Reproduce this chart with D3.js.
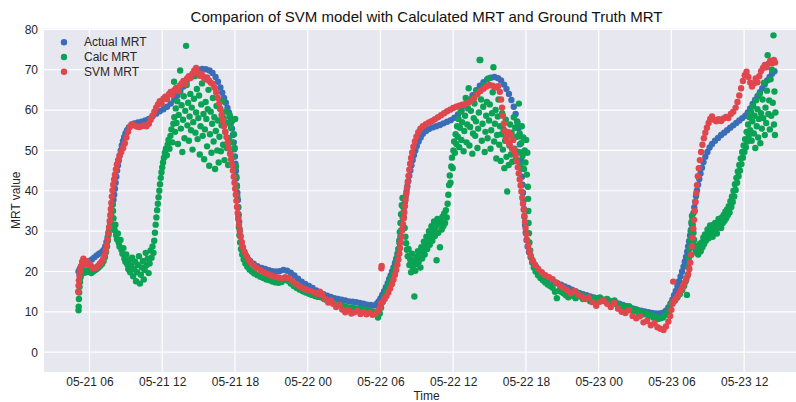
<!DOCTYPE html>
<html>
<head>
<meta charset="utf-8">
<script src="https://cdn.jsdelivr.net/npm/d3@7"></script>
<style>
  body { margin: 0; background: #fff; }
  text { font-family: "Liberation Sans", Arial, sans-serif; fill: #262626; }
</style>
</head>
<body>
<div class="chart"></div>
<script>
// hours counted from 05-21 00:00, value in MRT units
const actualMRT = [[5.1,20.0],[5.2,20.6],[5.3,21.2],[5.45,21.6],[5.6,22.0],[5.8,22.3],[6.0,22.6],[6.2,23.0],[6.4,23.5],[6.6,24.0],[6.8,24.4],[7.0,24.8],[7.15,25.3],[7.3,26.2],[7.4,27.3],[7.5,28.5],[7.58,29.8],[7.65,31],[7.72,32.3],[7.8,33.8],[7.86,35.2],[7.92,36.6],[7.98,37.8],[8.04,39],[8.1,40.5],[8.16,42],[8.22,43.5],[8.28,45],[8.35,46.3],[8.42,47.5],[8.5,48.8],[8.58,50],[8.67,51.2],[8.76,52.3],[8.86,53.3],[8.97,54.2],[9.1,55],[9.25,55.7],[9.45,56.3],[9.7,56.7],[10.0,56.9],[10.3,57.1],[10.6,57.4],[10.9,57.8],[11.2,58.4],[11.5,59.1],[11.8,59.7],[12.1,60.2],[12.4,60.8],[12.7,61.6],[13.0,62.6],[13.25,63.6],[13.5,64.7],[13.75,65.8],[14.0,66.9],[14.25,67.9],[14.5,68.8],[14.75,69.5],[15.0,70.0],[15.3,70.2],[15.6,70.1],[15.9,69.8],[16.15,69.2],[16.4,68.2],[16.6,67.0],[16.8,65.6],[16.95,64.3],[17.1,63.0],[17.25,61.8],[17.38,60.5],[17.5,59.4],[17.6,58.2],[17.68,56.9],[17.76,55.4],[17.83,53.8],[17.9,52],[17.95,50.3],[18.0,48.5],[18.04,46.7],[18.08,44.9],[18.12,43.1],[18.16,41.3],[18.2,39.5],[18.24,37.7],[18.28,35.9],[18.31,34.1],[18.35,32.3],[18.39,30.5],[18.45,28.8],[18.53,27.3],[18.64,25.9],[18.8,24.6],[19.0,23.5],[19.25,22.6],[19.55,21.9],[19.85,21.3],[20.2,20.9],[20.5,20.6],[20.8,20.3],[21.1,20.1],[21.4,20.0],[21.7,20.1],[22.0,20.4],[22.3,20.2],[22.6,19.7],[22.9,19.0],[23.2,18.2],[23.5,17.5],[23.8,16.9],[24.1,16.4],[24.4,15.9],[24.7,15.3],[25.0,14.8],[25.3,14.4],[25.6,14.0],[25.9,13.7],[26.2,13.4],[26.5,13.2],[26.8,13.0],[27.1,12.8],[27.4,12.6],[27.7,12.5],[28.0,12.4],[28.3,12.2],[28.6,12.0],[28.9,11.8],[29.2,11.7],[29.5,11.6],[29.7,12.0],[29.85,12.6],[30.0,13.3],[30.15,14.2],[30.3,15.1],[30.45,16.1],[30.6,17.1],[30.72,18.1],[30.84,19.0],[30.96,20.0],[31.08,21.0],[31.2,22.1],[31.3,23.2],[31.4,24.4],[31.5,25.6],[31.58,27.0],[31.65,28.6],[31.72,30.2],[31.78,31.8],[31.84,33.3],[31.9,34.6],[31.96,35.9],[32.02,37.2],[32.08,38.5],[32.15,39.8],[32.22,41.1],[32.3,42.4],[32.38,43.7],[32.47,45.0],[32.56,46.3],[32.66,47.6],[32.76,48.8],[32.88,50.0],[33.0,51.1],[33.15,52.2],[33.32,53.2],[33.5,54.1],[33.75,54.8],[34.0,55.3],[34.3,55.7],[34.6,56.0],[34.9,56.3],[35.2,56.7],[35.5,57.1],[35.8,57.5],[36.1,58.1],[36.4,58.9],[36.7,59.9],[37.0,61.1],[37.3,62.4],[37.6,63.7],[37.9,64.9],[38.2,66.0],[38.5,66.9],[38.8,67.6],[39.1,68.0],[39.4,68.2],[39.7,67.9],[39.95,67.3],[40.2,66.3],[40.4,65.2],[40.6,64.0],[40.8,62.5],[41.0,60.8],[41.15,59.0],[41.28,57.2],[41.38,55.5],[41.45,53.5],[41.5,51.5],[41.55,49.5],[41.6,47.5],[41.64,45.5],[41.68,43.5],[41.72,41.5],[41.76,39.5],[41.8,37.5],[41.84,35.5],[41.88,33.5],[41.93,31.5],[41.98,29.6],[42.05,27.8],[42.14,26.2],[42.25,24.8],[42.4,23.5],[42.6,22.3],[42.85,21.1],[43.1,20.1],[43.4,19.3],[43.7,18.6],[44.0,18.0],[44.3,17.5],[44.6,17.1],[44.9,16.7],[45.2,16.3],[45.5,15.9],[45.8,15.5],[46.1,15.1],[46.4,14.7],[46.7,14.4],[47.0,14.1],[47.3,13.8],[47.6,13.6],[47.9,13.4],[48.2,13.2],[48.5,13.0],[48.8,12.8],[49.1,12.6],[49.4,12.3],[49.7,12.0],[50.0,11.7],[50.3,11.4],[50.6,11.1],[50.9,10.8],[51.2,10.5],[51.5,10.3],[51.8,10.1],[52.1,9.9],[52.4,9.7],[52.7,9.6],[53.0,9.6],[53.3,9.8],[53.55,10.3],[53.75,11.1],[53.92,12.0],[54.08,13.0],[54.22,14.1],[54.36,15.2],[54.5,16.4],[54.63,17.6],[54.76,18.8],[54.88,20.0],[55.0,21.2],[55.1,22.4],[55.2,23.6],[55.3,24.9],[55.38,26.2],[55.46,27.5],[55.54,28.9],[55.61,30.3],[55.68,31.7],[55.75,33.1],[55.82,34.5],[55.89,35.9],[55.96,37.3],[56.03,38.7],[56.11,40.1],[56.2,41.5],[56.3,42.9],[56.4,44.3],[56.52,45.7],[56.65,47.1],[56.8,48.4],[56.97,49.6],[57.15,50.7],[57.35,51.6],[57.6,52.4],[57.85,53.1],[58.1,53.8],[58.35,54.4],[58.6,55.0],[58.85,55.6],[59.1,56.2],[59.35,56.8],[59.6,57.4],[59.85,58.0],[60.1,58.6],[60.3,59.4],[60.5,60.4],[60.7,61.5],[60.9,62.5],[61.1,63.4],[61.3,64.4],[61.5,65.4],[61.7,66.4],[61.9,67.3],[62.1,68.2],[62.3,69.0],[62.5,69.6]];

const calcMRT = [[5.1,10.4],[5.11,11.3],[5.13,13.2],[5.15,14.8],[5.18,16.2],[5.22,17.4],[5.27,18.6],[5.33,19.4],[5.4,19.9],[5.5,19.6],[5.6,20.2],[5.72,19.8],[5.85,20.3],[6.0,19.9],[6.15,19.6],[6.3,20.0],[6.45,20.3],[6.6,20.6],[6.75,21.0],[6.9,21.4],[7.05,21.9],[7.17,22.6],[7.28,23.6],[7.37,24.8],[7.45,26.2],[7.52,27.6],[7.58,29.1],[7.64,30.6],[7.7,32.1],[7.76,33.6],[7.82,35.2],[7.88,36.6],
[7.94,35.0],[7.98,33.2],[8.03,31.4],[8.08,30.2],[8.14,31.6],[8.2,29.0],[8.27,28.0],[8.34,29.4],[8.41,27.2],[8.48,26.2],[8.56,27.8],[8.64,25.4],[8.72,24.4],[8.8,25.8],[8.88,23.2],[8.96,22.4],[9.04,24.2],[9.12,21.8],[9.2,20.6],[9.28,22.8],[9.36,19.8],[9.44,21.4],[9.52,23.4],[9.6,18.8],[9.68,20.6],[9.76,22.4],[9.84,17.6],[9.92,19.8],[10.0,21.6],[10.08,23.8],[10.16,17.0],[10.24,19.2],[10.32,21.0],[10.4,22.6],[10.48,18.0],[10.56,20.4],[10.64,24.6],[10.72,21.6],[10.8,23.2],[10.88,19.6],[10.96,22.0],[11.04,25.2],[11.12,23.4],[11.2,26.2],[11.28,24.6],[11.34,27.6],[11.4,29.6],[11.46,31.6],[11.52,33.4],[11.58,35.2],[11.64,36.8],[11.7,38.4],[11.76,40.0],[11.82,41.6],[11.88,43.2],[11.94,44.6],[12.0,45.8],[12.07,47.0],[12.14,48.2],[12.22,49.4],[12.3,50.4],[12.38,48.8],[12.45,51.4],[12.52,52.6],[12.6,50.4],[12.68,53.6],[12.76,55.2],[12.84,52.0],[12.92,56.6],[12.98,67.0],[13.0,58.2],
[13.06,54.6],[13.12,60.4],[13.18,56.8],[13.24,62.2],[13.3,51.6],[13.36,58.8],[13.42,64.6],[13.48,69.8],[13.54,55.4],[13.6,61.2],[13.66,49.6],[13.72,57.6],[13.78,63.4],[13.84,53.0],[13.9,59.8],[13.97,75.9],[14.02,66.2],[14.08,56.2],[14.14,61.8],[14.2,52.4],[14.26,58.4],[14.32,64.0],[14.38,55.0],[14.44,60.6],[14.5,50.2],[14.56,57.0],[14.62,62.8],[14.68,68.4],[14.74,54.4],[14.8,59.4],[14.86,65.2],[14.92,52.8],[14.98,58.0],[15.04,63.6],[15.1,49.0],[15.16,56.0],[15.22,61.4],[15.28,66.6],[15.34,53.6],[15.4,59.0],[15.46,47.8],[15.52,55.2],[15.58,62.0],[15.64,57.8],[15.7,51.0],[15.76,60.2],[15.82,65.0],[15.88,46.2],[15.94,54.0],[16.0,59.6],[16.06,49.4],[16.12,56.6],[16.18,63.0],[16.24,52.2],[16.3,58.2],[16.36,45.4],[16.42,54.8],[16.48,61.0],[16.54,50.0],[16.6,57.4],[16.66,47.0],[16.72,53.4],[16.78,60.4],[16.84,49.8],[16.9,56.2],[16.96,62.2],[17.02,51.4],[17.08,58.0],[17.14,47.6],[17.2,54.6],[17.26,59.6],[17.32,50.6],[17.38,56.8],[17.44,46.4],[17.5,53.0],[17.56,58.8],[17.62,49.2],[17.68,55.6],[17.74,52.0],[17.8,57.4],[17.86,48.4],[17.92,54.0],[17.98,50.6],[18.02,57.8],
[18.08,46.0],[18.12,43.5],[18.16,41.0],[18.2,38.5],[18.24,36.0],[18.28,33.5],[18.32,31.0],[18.37,29.0],[18.43,27.2],[18.5,25.6],[18.6,24.2],[18.72,23.0],[18.86,22.0],[19.02,21.2],[19.2,20.5],[19.4,20.0],[19.6,19.5],[19.85,19.1],[20.1,18.7],[20.35,18.4],[20.6,18.0],[20.85,17.8],[21.1,17.5],[21.35,17.3],[21.6,17.2],[21.85,17.4],[22.1,18.0],[22.35,17.7],[22.6,17.0],[22.85,16.4],[23.1,15.9],[23.35,15.5],[23.6,15.1],[23.85,14.8],[24.1,14.5],[24.35,14.2],[24.6,13.9],[24.85,13.7],[25.1,13.6],[25.35,13.2],[25.6,12.8],[25.85,12.5],[26.1,12.2],[26.35,11.9],[26.6,11.7],[26.85,11.5],[27.1,11.3],[27.35,11.1],[27.6,11.0],[27.85,10.9],[28.1,10.8],[28.35,10.7],[28.6,10.6],[28.85,10.5],[29.1,10.3],[29.35,10.1],[29.6,9.6],[29.8,8.6],[29.95,9.6],[30.05,11.0],
[30.15,12.4],[30.3,13.8],[30.45,15.0],[30.6,16.2],[30.75,17.3],[30.9,18.4],[31.05,19.5],[31.18,20.8],[31.3,22.2],[31.4,23.8],[31.48,25.6],[31.55,27.6],[31.6,29.8],[31.65,32.0],[31.7,34.2],[31.76,36.4],[31.82,38.2],[31.88,36.0],[31.94,33.4],[32.0,30.8],[32.06,28.6],[32.12,27.0],[32.18,25.4],[32.25,23.8],[32.32,25.6],[32.39,21.6],[32.46,23.0],[32.53,19.8],[32.6,24.4],[32.67,21.2],[32.74,22.6],[32.8,13.8],[32.88,20.2],[32.95,23.6],[33.02,21.8],[33.09,25.0],[33.16,22.4],[33.23,24.2],[33.3,21.0],[33.37,26.0],[33.44,23.2],[33.51,25.4],[33.58,27.4],[33.65,24.2],[33.72,26.8],[33.79,28.6],[33.86,25.6],[33.93,27.8],[34.0,30.0],[34.07,26.6],[34.14,29.0],[34.21,31.2],[34.28,27.6],[34.35,30.2],[34.42,32.4],[34.49,28.8],[34.56,31.0],[34.63,22.8],[34.7,33.0],[34.77,29.6],[34.84,31.8],[34.91,26.0],[34.98,32.6],[35.05,30.4],[35.12,33.6],[35.19,31.2],[35.26,34.4],[35.33,32.0],[35.4,35.2],[35.47,33.4],[35.54,36.8],[35.6,39.0],[35.66,41.4],[35.72,43.8],[35.78,42.0],[35.84,46.0],[35.9,48.2],[35.96,45.6],[36.02,50.0],[36.08,52.2],[36.14,49.4],[36.2,54.0],[36.26,51.6],[36.32,56.0],
[36.38,53.4],[36.44,57.8],[36.5,50.8],[36.56,55.6],[36.62,59.6],[36.68,52.6],[36.74,57.0],[36.8,61.2],[36.86,49.8],[36.92,54.8],[36.98,58.6],[37.04,63.0],[37.1,52.0],[37.16,56.4],[37.22,60.4],[37.28,65.4],[37.34,51.2],[37.4,55.8],[37.46,59.8],[37.52,62.8],[37.58,49.2],[37.64,54.2],[37.7,58.0],[37.76,61.6],[37.82,53.6],[37.88,57.2],[37.94,64.6],[38.0,50.6],[38.06,55.4],[38.12,59.4],[38.18,72.4],[38.24,72.4],[38.3,62.6],[38.36,52.4],[38.42,56.6],[38.48,60.8],[38.54,66.2],[38.6,49.6],[38.66,54.6],[38.72,58.6],[38.78,62.0],[38.84,53.0],[38.9,67.8],[38.96,57.4],[39.02,61.4],[39.08,50.4],[39.14,55.0],[39.2,59.2],[39.26,64.4],[39.32,70.6],[39.38,52.2],[39.44,56.6],[39.5,60.0],[39.56,48.0],[39.62,53.8],[39.68,58.4],[39.74,62.6],[39.8,51.4],[39.86,56.0],[39.92,47.4],[39.98,54.0],[40.04,59.2],[40.1,50.2],[40.16,55.2],[40.22,45.6],[40.28,52.4],[40.34,57.6],[40.4,48.4],[40.46,39.8],[40.52,53.6],[40.58,46.4],[40.64,51.2],[40.7,56.4],[40.76,49.0],[40.82,54.4],[40.88,47.2],[40.94,52.6],[41.0,58.2],[41.06,50.4],[41.12,55.6],[41.18,47.8],[41.24,53.4],[41.3,56.8],[41.36,49.6],[41.42,61.6],[41.48,54.2],[41.54,46.2],[41.6,51.8],[41.66,56.0],[41.72,48.6],[41.78,53.2],[41.84,45.4],[41.9,50.0],[41.96,47.0],[42.02,52.6],[42.08,44.0],[42.12,49.4],[42.16,41.0],[42.18,38.0],[42.2,35.0],[42.22,32.0],[42.25,29.5],[42.29,27.2],[42.35,25.2],[42.42,23.6],[42.52,22.2],[42.65,21.0],[42.8,20.0],[43.0,19.1],[43.2,18.4],[43.4,17.8],[43.6,17.3],[43.8,16.8],[44.0,16.4],[44.2,16.0],[44.4,15.0],[44.55,13.4],[44.7,15.2],[44.9,15.0],[45.1,14.6],[45.3,14.1],[45.5,13.6],[45.7,14.2],[45.9,13.9],[46.1,13.4],[46.3,14.6],[46.5,13.8],[46.7,13.2],[46.9,13.9],[47.1,13.4],[47.3,12.6],[47.5,13.4],[47.7,12.8],[47.9,13.2],[48.1,13.6],[48.3,13.0],[48.5,12.6],[48.7,13.2],[48.9,12.4],[49.1,12.0],[49.3,12.8],[49.5,11.8],[49.7,11.4],[49.9,11.6],[50.1,11.2],[50.3,10.8],[50.5,11.4],[50.7,10.6],[50.9,10.2],[51.1,10.6],[51.3,9.8],[51.5,10.0],[51.7,9.4],[51.9,9.6],[52.1,9.0],[52.3,9.2],[52.5,8.6],[52.7,8.8],[52.9,8.2],[53.1,8.4],[53.3,8.6],[53.5,9.2],[53.7,10.0],[53.85,11.0],[54.0,12.2],[54.15,12.6],
[54.3,12.8],[54.5,13.6],[54.7,14.4],[54.9,15.4],[55.05,16.4],[55.18,17.6],[55.28,14.2],[55.34,19.0],[55.4,21.2],[55.45,23.4],[55.5,25.6],[55.55,27.8],[55.6,30.0],[55.65,32.2],[55.7,33.8],[55.76,31.6],[55.82,29.6],[55.88,27.8],[55.94,26.4],[56.0,25.2],[56.07,24.6],[56.14,25.8],[56.21,24.2],[56.28,25.4],[56.35,26.8],[56.42,25.0],[56.49,27.2],[56.56,26.0],[56.63,28.4],[56.7,26.8],[56.77,29.2],[56.84,27.6],[56.91,28.8],[56.98,30.4],[57.05,28.2],[57.12,29.8],[57.19,31.4],[57.26,29.0],[57.33,30.8],[57.4,28.6],[57.47,31.6],[57.54,30.2],[57.61,32.0],[57.68,30.6],[57.75,29.4],[57.82,31.8],[57.89,33.0],[57.96,31.2],[58.03,32.6],[58.1,30.8],[58.17,33.4],[58.24,32.0],[58.31,34.0],[58.38,32.6],[58.45,34.8],[58.52,33.2],[58.59,35.4],[58.66,34.0],[58.73,36.2],[58.8,34.6],[58.87,37.4],[58.94,36.0],[59.0,38.6],[59.06,37.2],[59.12,40.0],[59.18,38.6],[59.24,41.6],[59.3,40.2],[59.36,43.2],[59.42,42.0],[59.48,44.8],[59.54,43.6],[59.6,46.4],[59.66,45.0],[59.72,48.0],[59.78,46.6],[59.84,49.6],[59.9,48.2],[59.96,51.2],[60.02,49.6],[60.08,52.8],[60.14,50.8],[60.2,54.6],[60.26,52.2],[60.32,56.4],[60.38,53.6],[60.44,58.2],
[60.5,55.0],[60.56,59.6],[60.62,52.4],[60.68,57.2],[60.74,61.0],[60.8,54.2],[60.86,58.6],[60.92,50.6],[60.98,62.4],[61.04,56.0],[61.1,60.2],[61.16,53.2],[61.22,57.8],[61.28,64.0],[61.34,51.8],[61.4,59.2],[61.46,55.4],[61.52,62.6],[61.58,58.0],[61.64,66.8],[61.7,53.8],[61.76,60.6],[61.82,56.8],[61.88,64.8],[61.94,73.6],[62.0,59.0],[62.06,62.4],[62.12,55.2],[62.18,67.6],[62.24,58.6],[62.3,70.0],[62.36,61.8],[62.42,78.5],[62.46,56.4],[62.5,64.6],[62.54,53.8],[62.58,59.4]];

const svmMRT = [[5.07,15],[5.1,16.5],[5.13,17.8],[5.17,19],[5.22,20.2],[5.3,21.3],[5.4,22.4],[5.5,23.2],[5.6,22.6],[5.7,21.8],[5.8,22.5],[5.95,22.0],[6.1,21.5],[6.25,21.0],[6.4,20.8],[6.55,21.0],[6.7,21.4],[6.85,21.9],[7.0,22.4],[7.12,23.0],[7.24,24.0],[7.34,25.2],[7.42,26.5],[7.5,28],[7.56,29.5],[7.62,31],[7.67,32.5],[7.72,34],[7.76,35.5],[7.8,37],[7.85,38.6],[7.9,40.1],[7.96,41.5],[8.03,42.8],[8.1,44],[8.18,45.3],[8.26,46.5],[8.36,47.6],[8.48,48.6],[8.62,49.6],[8.78,50.6],[8.92,51.8],[9.05,53.2],[9.18,54.6],[9.32,55.8],[9.5,56.5],[9.7,56.2],[9.9,55.9],[10.1,55.8],[10.3,56.0],[10.5,56.2],[10.7,56.0],[10.9,56.6],[11.05,57.6],[11.2,58.6],[11.35,59.6],[11.5,60.6],[11.65,61.4],[11.8,62.2],[11.95,61.6],[12.1,62.8],[12.25,63.3],[12.4,62.7],[12.55,63.9],[12.7,64.5],[12.85,63.8],[13.0,64.9],[13.15,65.5],[13.3,64.8],[13.45,66.0],[13.6,66.6],[13.75,67.2],[13.9,66.5],[14.05,67.8],[14.2,68.4],[14.35,68.0],[14.5,69.0],[14.65,69.8],[14.8,70.4],[14.95,69.3],[15.1,68.5],[15.25,69.0],[15.4,68.2],[15.55,67.6],[15.7,68.1],[15.85,67.3],[16.0,66.8],[16.15,66.5],[16.3,65.6],[16.45,64.4],[16.58,63],[16.7,61.6],[16.8,60.2],[16.9,58.8],[17.0,57.4],[17.1,56],[17.2,54.6],[17.3,53.3],[17.4,52],[17.5,50.6],[17.6,49.2],[17.68,47.8],[17.76,46.4],[17.83,45],[17.9,43.5],[17.96,42],[18.02,40.5],[18.07,39],[18.12,37.5],[18.17,36],[18.22,34.5],[18.27,33],[18.33,31.5],[18.4,30],[18.47,28.6],[18.56,27.2],[18.66,26],[18.78,24.9],[18.93,23.9],[19.1,23],[19.3,22.2],[19.55,21.5],[19.8,20.9],[20.1,20.3],[20.4,19.8],[20.7,19.4],[21.0,19.0],[21.3,18.7],[21.6,18.5],[21.9,18.3],[22.15,18.6],[22.4,18.4],[22.7,17.7],[23.0,17.0],[23.3,16.4],[23.6,15.9],[23.9,15.5],[24.2,15.2],[24.5,14.9],[24.8,14.4],[25.0,15.0],[25.2,14.2],[25.45,13.2],[25.7,12.3],[25.9,12.8],[26.1,12.0],[26.35,11.2],[26.6,11.8],[26.85,10.6],[27.1,9.9],[27.35,10.5],[27.6,9.6],[27.85,9.9],[28.1,10.3],[28.35,9.5],[28.6,10.0],[28.85,9.4],[29.1,9.8],[29.35,9.3],[29.6,9.6],[29.8,10.2],[29.95,11],[30.05,12],[30.08,20.8],[30.1,21.4],
[30.2,12.5],[30.35,13.2],[30.5,13.9],[30.65,14.8],[30.8,15.8],[30.95,16.9],[31.08,18],[31.2,19.2],[31.3,20.4],[31.4,21.7],[31.48,23],[31.56,24.4],[31.62,25.8],[31.68,27.2],[31.74,28.7],[31.8,30.2],[31.86,31.7],[31.92,33.2],[31.97,34.7],[32.02,36.2],[32.07,37.7],[32.13,39.2],[32.19,40.7],[32.25,42.2],[32.31,43.7],[32.38,45.2],[32.45,46.7],[32.53,48.1],[32.62,49.5],[32.72,50.9],[32.84,52.2],[32.97,53.4],[33.12,54.5],[33.3,55.4],[33.5,56.0],[33.75,56.5],[34.0,56.9],[34.25,57.3],[34.5,57.7],[34.75,58.2],[35.0,58.7],[35.25,59.2],[35.5,59.7],[35.75,60.1],[36.0,60.5],[36.25,60.8],[36.5,61.1],[36.75,61.3],[37.0,61.5],[37.25,61.8],[37.5,62.3],[37.75,63.0],[38.0,63.9],[38.25,64.7],[38.5,65.3],[38.75,65.8],[39.0,66.2],[39.25,66.0],[39.5,65.6],[39.7,65.9],[39.85,64.5],[39.95,62.6],[40.03,60.6],[40.1,58.6],[40.18,56.6],[40.26,54.8],[40.35,53.2],[40.45,52.3],[40.55,54.5],[40.65,51.5],[40.75,53.8],[40.85,50.5],[40.95,52.6],[41.05,50.0],[41.15,48.8],[41.25,47.3],[41.33,45.8],[41.41,44.3],[41.49,42.8],[41.56,41.3],[41.63,39.8],[41.7,38.3],[41.76,36.8],[41.82,35.3],[41.87,33.8],[41.92,32.3],[41.97,30.8],[42.03,29.3],[42.1,27.8],[42.18,26.4],[42.28,25.1],[42.4,23.9],[42.55,22.8],[42.75,21.7],[43.0,20.7],[43.3,19.8],[43.6,19.1],[43.9,18.6],[44.2,18.1],[44.5,17.3],[44.8,16.5],[45.1,16.0],[45.4,15.4],[45.7,14.6],[46.0,15.2],[46.3,14.3],[46.6,13.8],[46.9,13.2],[47.2,13.6],[47.5,12.4],[47.8,11.5],[48.1,12.5],[48.4,12.9],[48.7,12.0],[49.0,11.2],[49.3,12.2],[49.6,10.8],[49.9,10.0],[50.2,9.7],[50.5,10.4],[50.8,9.0],[51.1,8.4],[51.4,8.9],[51.7,7.4],[52.0,7.8],[52.3,6.7],[52.6,7.2],[52.85,6.2],[53.1,5.8],[53.35,5.5],[53.55,6.4],[53.75,7.6],[53.9,9],[54.0,10.5],[54.1,12],[54.15,17.5],[54.2,12.6],[54.35,13.2],[54.5,13.9],[54.65,14.6],[54.8,15.4],[54.95,16.3],[55.1,17.2],[55.25,18.2],[55.38,19.3],[55.48,20.6],[55.56,22.2],[55.63,24.1],[55.69,26.2],[55.75,28.4],[55.81,30.6],[55.87,32.8],[55.93,35.0],[55.99,37.2],[56.05,39.4],[56.11,41.4],[56.18,43.6],[56.26,45.6],[56.35,47.6],[56.45,49.6],[56.56,51.4],[56.68,53.0],[56.8,54.4],[56.93,55.6],[57.07,56.8],[57.2,57.8],[57.35,58.4],[57.5,57.6],[57.7,57.2],[57.9,57.7],[58.1,57.3],[58.3,57.9],[58.5,58.3],[58.7,58.0],[58.9,59.0],[59.1,59.6],[59.3,60.6],[59.45,62],[59.6,63.6],[59.75,65.4],[59.9,67.2],[60.05,68.6],[60.2,69.5],[60.35,68.2],[60.5,66.8],[60.65,65.8],[60.8,66.6],[60.95,67.8],[61.1,66.9],[61.25,68.4],[61.4,69.6],[61.55,70.4],[61.7,71.2],[61.85,70.6],[62.0,71.5],[62.15,72.2],[62.3,71.6],[62.45,72.4],[62.55,71.8]];

const seriesNames = ["Actual MRT", "Calc MRT", "SVM MRT"];
const seriesColors = ["#3a6db5", "#0aa353", "#e0474d"];
const yTicks = [0, 10, 20, 30, 40, 50, 60, 70, 80];

const startDay = new Date(2019, 4, 21);
const toTime = h => new Date(startDay.getTime() + h * 3600 * 1000);

const W = 796, H = 402;
const margin = {top: 28.5, left: 44, bottom: 30};
const plotRight = 809; // axis runs past the window edge

const svg = d3.select(".chart").append("svg")
  .attr("width", W)
  .attr("height", H);

const x = d3.scaleTime()
  .domain([toTime(2.25), toTime(65.35)])
  .range([margin.left, plotRight]);

const y = d3.scaleLinear()
  .domain([-4.9, 80.2])
  .range([H - margin.bottom, margin.top]);

/*Plot background and grid*/
svg.append("rect")
  .attr("x", margin.left)
  .attr("y", margin.top)
  .attr("width", plotRight - margin.left)
  .attr("height", y(-4.9) - margin.top)
  .attr("fill", "#e7e7f0");

const xTicks = x.ticks(d3.timeHour.every(6));

svg.append("g")
  .selectAll("line")
  .data(yTicks)
  .join("line")
  .attr("x1", margin.left).attr("x2", plotRight)
  .attr("y1", d => y(d)).attr("y2", d => y(d))
  .attr("stroke", "#fff").attr("stroke-width", 1.2);

svg.append("g")
  .selectAll("line")
  .data(xTicks)
  .join("line")
  .attr("x1", d => x(d)).attr("x2", d => x(d))
  .attr("y1", margin.top).attr("y2", y(-4.9))
  .attr("stroke", "#fff").attr("stroke-width", 1.2);

/*Axes*/
const xAxis = d3.axisBottom(x)
  .tickValues(xTicks)
  .tickFormat(d3.timeFormat("%m-%d %H"))
  .tickSize(0)
  .tickPadding(5);

svg.append("g")
  .attr("class", "axis-x-axis")
  .attr("transform", `translate(0, ${y(-4.9)})`)
  .call(xAxis)
  .call(g => g.select(".domain").remove())
  .selectAll("text")
  .attr("font-size", 12)
  .attr("font-family", "Liberation Sans, Arial, sans-serif")
  .attr("fill", "#262626");

const yAxis = d3.axisLeft(y)
  .tickValues(yTicks)
  .tickSize(0)
  .tickPadding(6);

svg.append("g")
  .attr("class", "axis-y-axis")
  .attr("transform", `translate(${margin.left}, 0)`)
  .call(yAxis)
  .call(g => g.select(".domain").remove())
  .selectAll("text")
  .attr("font-size", 12)
  .attr("font-family", "Liberation Sans, Arial, sans-serif")
  .attr("fill", "#262626");

/*Points*/
const plot = svg.append("g");
[actualMRT, calcMRT, svmMRT].forEach((data, i) => {
  plot.append("g")
    .selectAll("circle")
    .data(data)
    .join("circle")
    .attr("cx", d => x(toTime(d[0])))
    .attr("cy", d => y(d[1]))
    .attr("r", 3.2)
    .attr("fill", seriesColors[i]);
});

/*Labels*/
svg.append("text")
  .attr("x", (margin.left + plotRight) / 2)
  .attr("y", 22)
  .attr("text-anchor", "middle")
  .attr("font-size", 15)
  .style("fill", "#111")
  .text("Comparion of SVM model with Calculated MRT and Ground Truth MRT");

svg.append("text")
  .attr("x", (margin.left + plotRight) / 2)
  .attr("y", 400)
  .attr("text-anchor", "middle")
  .attr("font-size", 12)
  .text("Time");

svg.append("text")
  .attr("transform", `translate(20, ${(margin.top + y(-4.9)) / 2}) rotate(-90)`)
  .attr("text-anchor", "middle")
  .attr("font-size", 12)
  .text("MRT value");

/*Legend*/
const legend = svg.append("g")
  .selectAll("g")
  .data(seriesNames)
  .join("g")
  .attr("transform", (d, i) => `translate(64, ${42.3 + i * 14.7})`);

legend.append("circle")
  .attr("r", 3.2)
  .attr("fill", (d, i) => seriesColors[i]);

legend.append("text")
  .attr("x", 20)
  .attr("y", 4)
  .attr("font-size", 12)
  .text(d => d);
</script>
</body>
</html>
